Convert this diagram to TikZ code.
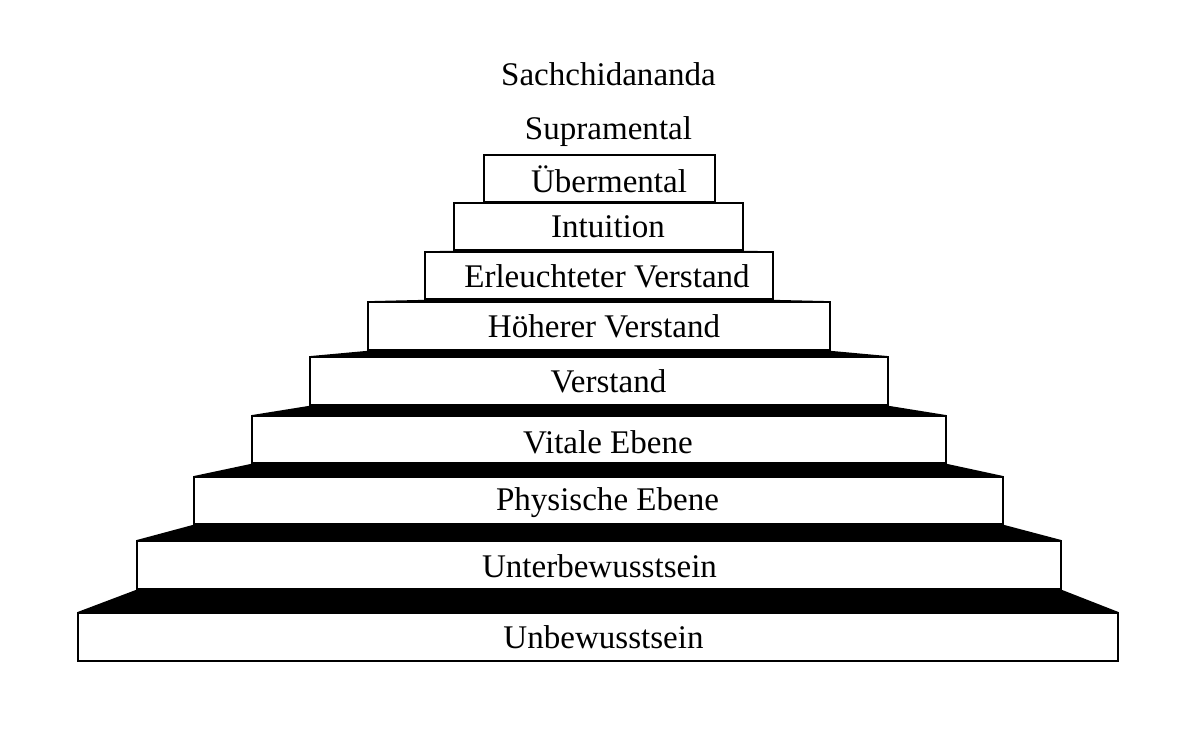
\documentclass[tikz,border=0pt]{standalone}
\usepackage{fontspec}
\setmainfont{Liberation Serif}
\usepackage{tikz}
\tikzset{
	stepbox/.style 2 args={draw,thick,line width=1.2pt,fill=white,inner sep=0pt,minimum width=#1*0.025cm,minimum height=#2*0.025cm},%
	steptext/.style={anchor=base,font=\fontsize{23.5}{28}\selectfont},%
	band/.style={fill=black},%
}

\begin{document}
\begin{tikzpicture}[x=0.025cm,y=-0.025cm]
		\useasboundingbox (0,0) rectangle (1200,733);
		% the steps, top to bottom
		\node[stepbox={231}{47}] (uebermental) at (599.5,178.5) {};
		\node[stepbox={289}{47}] (intuition) at (598.5,226.5) {};
		\node[stepbox={348}{47}] (erleuchtet) at (599,275.5) {};
		\node[stepbox={462}{48}] (hoeher) at (599,326) {};
		\node[stepbox={578}{48}] (verstand) at (599,381) {};
		\node[stepbox={694}{47}] (vital) at (599,439.5) {};
		\node[stepbox={809}{47}] (physisch) at (598.5,500.5) {};
		\node[stepbox={924}{48}] (unterbewusst) at (599,565) {};
		\node[stepbox={1040}{48}] (unbewusst) at (598,637) {};
		% black treads between the steps
		\fill[band] (intuition.south west) -- (intuition.south east) -- (erleuchtet.north east) -- (erleuchtet.north west) -- cycle;
		\fill[band] (erleuchtet.south west) -- (erleuchtet.south east) -- (hoeher.north east) -- (hoeher.north west) -- cycle;
		\fill[band] (hoeher.south west) -- (hoeher.south east) -- (verstand.north east) -- (verstand.north west) -- cycle;
		\fill[band] (verstand.south west) -- (verstand.south east) -- (vital.north east) -- (vital.north west) -- cycle;
		\fill[band] (vital.south west) -- (vital.south east) -- (physisch.north east) -- (physisch.north west) -- cycle;
		\fill[band] (physisch.south west) -- (physisch.south east) -- (unterbewusst.north east) -- (unterbewusst.north west) -- cycle;
		\fill[band] (unterbewusst.south west) -- (unterbewusst.south east) -- (unbewusst.north east) -- (unbewusst.north west) -- cycle;
		% labels
		\node[steptext] (sachchidananda) at (608.5,85) {Sachchidananda};
		\node[steptext] (supramental) at (608.5,139) {Supramental};
		\node[steptext] (tuebermental) at (609,192) {Übermental};
		\node[steptext] (tintuition) at (608,237) {Intuition};
		\node[steptext] (terleuchtet) at (607,287) {Erleuchteter Verstand};
		\node[steptext] (thoeher) at (604,337) {Höherer Verstand};
		\node[steptext] (tverstand) at (608.5,392) {Verstand};
		\node[steptext] (tvital) at (608,453) {Vitale Ebene};
		\node[steptext] (tphysisch) at (607.5,510) {Physische Ebene};
		\node[steptext] (tunterbewusst) at (599.5,577) {Unterbewusstsein};
		\node[steptext] (tunbewusst) at (603.5,648) {Unbewusstsein};
	\end{tikzpicture}
\end{document}
